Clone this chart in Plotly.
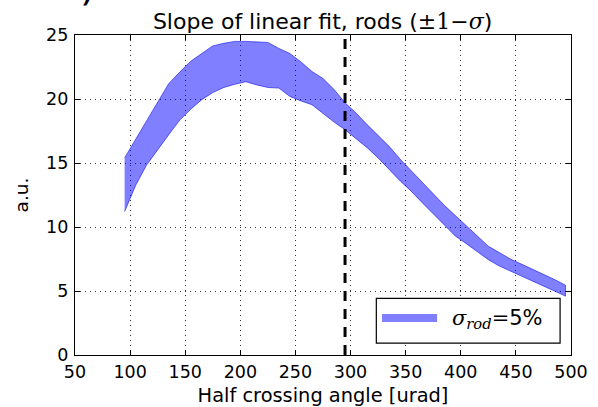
import plotly.graph_objects as go

# Data
angle = [95, 105, 115, 125, 135, 145, 155, 165, 175, 185, 195, 205, 215, 225, 235,
         245, 255, 265, 275, 285, 295, 305, 315, 325, 335, 345, 355, 365, 375, 385,
         395, 405, 415, 425, 435, 445, 455, 465, 475, 485, 495]
upper = [15.4, 16.85, 18.3, 19.8, 21.2, 22.1, 22.95, 23.55, 24.15, 24.35, 24.5, 24.5,
         24.48, 24.42, 23.95, 23.55, 22.9, 22.15, 21.6, 20.75, 19.7, 18.9, 18.0, 17.15,
         16.3, 15.3, 14.4, 13.5, 12.6, 11.7, 10.9, 10.1, 9.3, 8.5, 8.0, 7.5, 7.1, 6.7,
         6.35, 5.9, 5.45]
lower = [11.2, 13.25, 14.85, 16.05, 17.2, 18.35, 19.2, 19.95, 20.5, 20.9, 21.15, 21.35,
         21.1, 20.9, 20.85, 20.2, 19.85, 19.55, 18.9, 18.2, 17.6, 16.9, 16.2, 15.4,
         14.5, 13.6, 12.8, 11.9, 11.0, 10.15, 9.3, 8.7, 8.1, 7.45, 6.95, 6.55, 6.15,
         5.75, 5.4, 5.0, 4.6]
marker_angle = 295
x_ticks = [50, 100, 150, 200, 250, 300, 350, 400, 450, 500]
y_ticks = [0, 5, 10, 15, 20, 25]

BAND = "rgba(0,0,255,0.5)"
SERIF = "DejaVu Serif"

fig = go.Figure()
fig.add_trace(go.Scatter(
    x=angle + angle[::-1],
    y=upper + lower[::-1],
    fill="toself",
    fillcolor=BAND,
    line=dict(color="rgba(0,0,230,0.55)", width=1),
    mode="lines",
    hoverinfo="skip",
    showlegend=False,
))

fig.add_shape(type="line", xref="x", yref="paper", x0=marker_angle, x1=marker_angle,
              y0=0, y1=1, line=dict(color="black", width=3, dash="10px,8px"),
              layer="above")

# manual legend box (matplotlib style)
fig.add_shape(type="rect", xref="paper", yref="paper", x0=0.6075, x1=0.978,
              y0=0.037, y1=0.177, line=dict(color="black", width=1.2),
              fillcolor="white", layer="above")
fig.add_shape(type="line", xref="paper", yref="paper", x0=0.619, x1=0.730,
              y0=0.1156, y1=0.1156, line=dict(color=BAND, width=8), layer="above")
fig.add_annotation(
    xref="paper", yref="paper", x=0.757, y=0.112, xanchor="left", yanchor="middle",
    showarrow=False,
    text=(f"<span style='font-family:{SERIF}'><i>σ</i><sub><i>rod</i></sub>=</span>5%"),
    font=dict(family="DejaVu Sans", size=21, color="black"),
)

# fragment of a cropped panel label at top-left
fig.add_annotation(
    xref="paper", yref="paper", x=0.027, y=1.075, xanchor="center", yanchor="bottom",
    showarrow=False, text=")", font=dict(family="DejaVu Sans", size=40, color="black"),
)

axis_common = dict(
    showline=True, linecolor="black", linewidth=1.2, mirror="ticks",
    ticks="inside", ticklen=5, tickwidth=1, tickcolor="black",
    showgrid=True, gridcolor="#333333", gridwidth=0.8, griddash="1px,4px",
    zeroline=False, automargin=False,
    tickfont=dict(family="DejaVu Sans", size=17.5, color="black"),
)

fig.update_xaxes(
    range=[50, 500], tickvals=x_ticks, ticktext=[str(v) for v in x_ticks],
    ticklabelstandoff=1,
    title=dict(text="Half crossing angle [urad]", standoff=7,
               font=dict(family="DejaVu Sans", size=19.4, color="black")),
    **axis_common,
)
fig.update_yaxes(
    range=[0, 25], tickvals=y_ticks, ticktext=[str(v) for v in y_ticks],
    ticklabelstandoff=2,
    title=dict(text="a.u.", standoff=12,
               font=dict(family="DejaVu Sans", size=18.5, color="black")),
    **axis_common,
)

fig.update_layout(
    width=598, height=407,
    margin=dict(l=75, r=27, t=35, b=52),
    paper_bgcolor="white", plot_bgcolor="white",
    title=dict(
        text=f"Slope of linear fit, rods (<span style='font-family:{SERIF}'>±1−<i>σ</i></span>)",
        x=0.5395, xanchor="center", y=0.948, yanchor="middle",
        font=dict(family="DejaVu Sans", size=22, color="black"),
    ),
    showlegend=False,
)

fig.write_html("out.html")
